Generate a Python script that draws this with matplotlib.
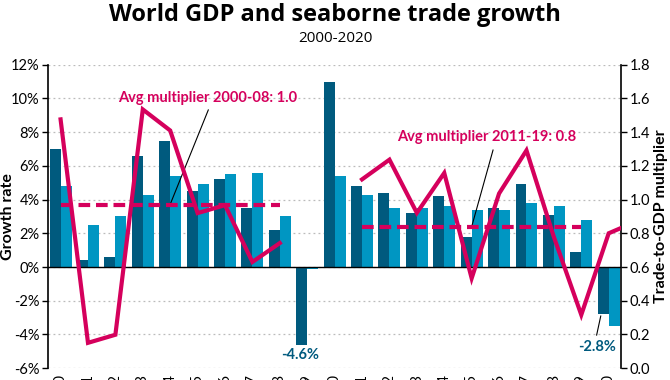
import matplotlib
matplotlib.use("Agg")
import matplotlib.pyplot as plt
import numpy as np

years = list(range(2000, 2021))
trade_growth = [7.0, 0.4, 0.6, 6.6, 7.5, 4.5, 5.2, 3.5, 2.2, -4.6, 11.0,
                4.8, 4.4, 3.2, 4.2, 1.8, 3.5, 4.9, 3.1, 0.9, -2.8]
gdp_growth = [4.8, 2.5, 3.0, 4.3, 5.4, 4.9, 5.5, 5.6, 3.0, -0.1, 5.4,
              4.3, 3.5, 3.5, 3.6, 3.4, 3.4, 3.8, 3.6, 2.8, -3.5]
mult_years_a = list(range(2000, 2009))
mult_a = [1.476, 0.15, 0.198, 1.535, 1.41, 0.92, 0.967, 0.63, 0.742]
mult_years_b = list(range(2011, 2022))
mult_b = [1.12, 1.237, 0.921, 1.158, 0.533, 1.036, 1.292, 0.778, 0.316, 0.80, 0.87]
avg_a = 0.965
avg_b = 0.84

DARK = "#005a7e"
LIGHT = "#0096c2"
MAG = "#d5005c"

plt.rcParams['font.family'] = ['Lato', 'DejaVu Sans']

fig = plt.figure(figsize=(6.7, 3.8), dpi=100)
ax = fig.add_axes([0.0716, 0.0313, 0.9269 - 0.0716, 0.8295 - 0.0313])
ax2 = ax.twinx()

x = np.arange(len(years))
w = 0.4
ax.bar(x - w / 2, trade_growth, w, color=DARK, zorder=2)
ax.bar(x + w / 2, gdp_growth, w, color=LIGHT, zorder=2)
ax.axhline(0, color="black", lw=1.0, zorder=3)

ax.set_ylim(-6, 12)
ax.set_yticks(np.arange(-6, 13, 2))
ax.set_yticklabels([f"{v}%" for v in range(-6, 13, 2)], fontsize=10.5)
ax.yaxis.grid(True, linestyle=(0, (1.5, 2.5)), color="#bbbbbb", lw=0.9, zorder=0)
ax.set_axisbelow(True)
ax.set_xlim(-0.46, 20.45)
ax.set_xticks(x)
ax.set_xticklabels([str(y) for y in years], rotation=90, fontsize=10.5)
ax.tick_params(axis="x", length=0, pad=4)
ax.tick_params(axis="y", length=4, width=1, pad=2)
ax.set_ylabel("Growth rate", fontsize=11.5, fontweight="bold")
ax.yaxis.set_label_coords(-0.0576, 0.5)

ax2.set_ylim(0, 1.8)
ax2.set_yticks(np.arange(0, 1.81, 0.2))
ax2.set_yticklabels([f"{v:.1f}" for v in np.arange(0, 1.81, 0.2)], fontsize=10.5)
ax2.tick_params(axis="y", length=4, width=1, pad=2)
ax2.set_ylabel("Trade-to-GDP multiplier", fontsize=11.5, fontweight="bold")
ax2.yaxis.set_label_coords(1.058, 0.5)

ya = [y - 2000 for y in mult_years_a]
yb = [y - 2000 for y in mult_years_b]
ax2.plot(ya, mult_a, color=MAG, lw=3, solid_joinstyle="miter", zorder=4)
ax2.plot(yb, mult_b, color=MAG, lw=3, solid_joinstyle="miter", zorder=4)
ax2.plot([0, 8], [avg_a, avg_a], color=MAG, lw=3, dashes=(2.8, 1.4), zorder=4)
ax2.plot([11, 19], [avg_b, avg_b], color=MAG, lw=3, dashes=(2.8, 1.4), zorder=4)

for a in (ax, ax2):
    for s in ("top", "bottom"):
        a.spines[s].set_visible(False)
    a.spines["left"].set_linewidth(1.2)
    a.spines["right"].set_linewidth(1.2)
ax2.spines["left"].set_visible(False)
ax.spines["right"].set_visible(False)

ax.text(5.38, 10.05, "Avg multiplier 2000-08: 1.0", color=MAG, fontsize=10.5,
        fontweight="bold", ha="center", va="center", zorder=6)
ax.plot([5.39, 3.99], [9.32, 3.68], color="black", lw=0.8, zorder=5)
ax.text(15.56, 7.72, "Avg multiplier 2011-19: 0.8", color=MAG, fontsize=10.5,
        fontweight="bold", ha="center", va="center", zorder=6)
ax.plot([15.78, 15.0], [6.94, 2.39], color="black", lw=0.8, zorder=5)
ax.text(8.73, -5.22, "-4.6%", color=DARK, fontsize=10.5, fontweight="bold",
        ha="center", va="center", zorder=6)
ax.text(19.57, -4.73, "-2.8%", color=DARK, fontsize=10.5, fontweight="bold",
        ha="center", va="center", zorder=6)
ax.plot([19.71, 19.56], [-2.91, -4.04], color="black", lw=0.8, zorder=5)

fig.text(0.5, 1 - 15 / 380, "World GDP and seaborne trade growth", ha="center",
         va="center", fontsize=17, fontweight="bold", family=["Open Sans", "DejaVu Sans"])
fig.text(0.5, 1 - 39 / 380, "2000-2020", ha="center", va="center", fontsize=11,
         family=["Open Sans", "DejaVu Sans"])

fig.savefig("out.png", dpi=100)
